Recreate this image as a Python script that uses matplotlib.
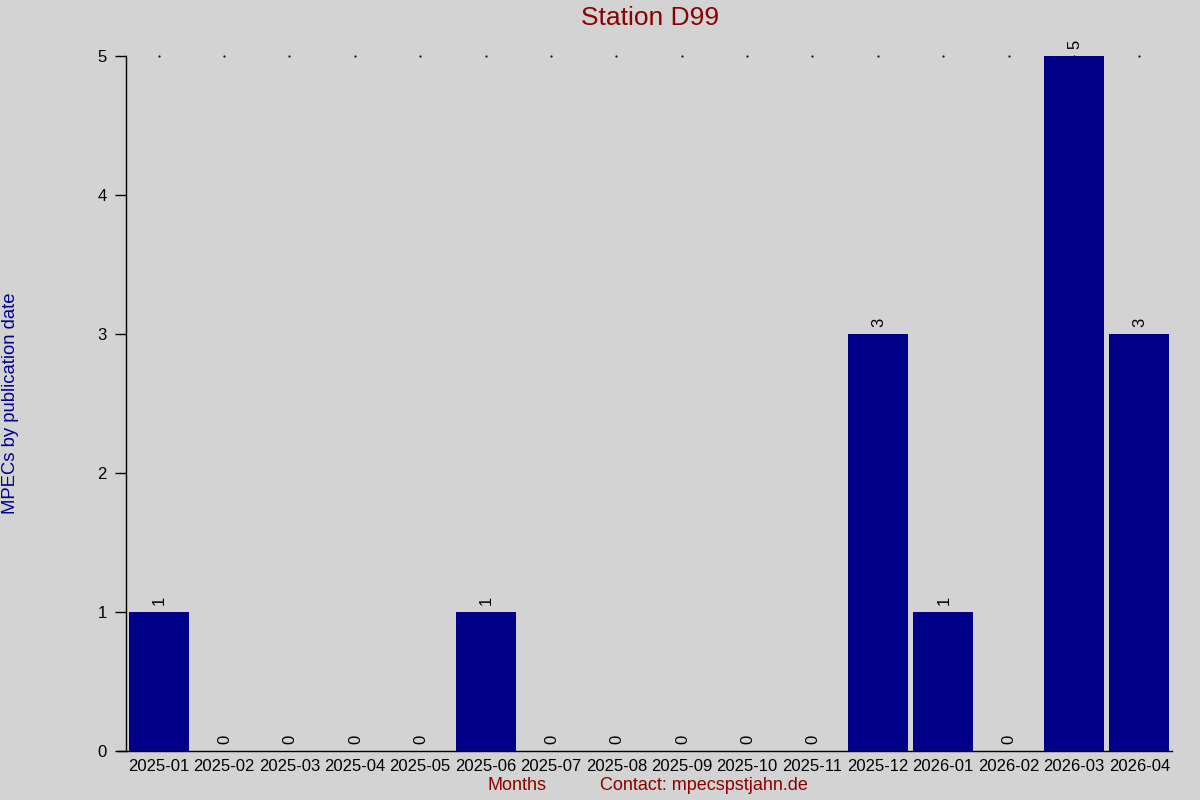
import numpy as np
import matplotlib.pyplot as plt

plt.rcParams['font.family'] = ['Liberation Sans', 'DejaVu Sans']

months = ['2025-01', '2025-02', '2025-03', '2025-04', '2025-05', '2025-06',
          '2025-07', '2025-08', '2025-09', '2025-10', '2025-11', '2025-12',
          '2026-01', '2026-02', '2026-03', '2026-04']
counts = [1, 0, 0, 0, 0, 1, 0, 0, 0, 0, 0, 3, 1, 0, 5, 3]

bg = '#d3d3d3'
bar_col = '#000088'
red = '#8b0000'

fig = plt.figure(figsize=(12, 8), dpi=100, facecolor=bg)
ax = fig.add_axes([0.105, 0.06125, 0.8717, 0.86875])
ax.set_facecolor(bg)

x = np.arange(len(months))
ax.bar(x, counts, width=0.92, color=bar_col, zorder=2)

# value labels above bars
for xi, c in zip(x, counts):
    ax.annotate(str(c), (xi, c), xytext=(0.5, 5), textcoords='offset points',
                rotation=90, ha='center', va='bottom', fontsize=12, color='black')

# little dots along the top
ax.scatter(x, [5] * len(x), s=0.3, color='black', clip_on=False, zorder=1)

ax.set_xlim(-0.5, len(months) - 0.5)
ax.set_ylim(0, 5)
ax.set_xticks(x)
ax.set_xticklabels(months, fontsize=12)
ax.set_yticks(range(6))
ax.tick_params(axis='x', length=0, pad=6)
ax.tick_params(axis='y', length=8, width=1, labelsize=12, pad=6, direction='out')
for s in ['top', 'right']:
    ax.spines[s].set_visible(False)
ax.spines['left'].set_linewidth(1)
ax.spines['bottom'].set_linewidth(1)
ax.spines['bottom'].set_bounds(-0.62, len(months) - 0.5)

fig.text(0.5417, 0.9775, 'Station D99', ha='center', va='center', fontsize=19, color=red)
fig.text(0.009, 0.496, 'MPECs by publication date', rotation=90, ha='center', va='center',
         fontsize=13.3, color='#00008b')
fig.text(0.431, 0.0175, 'Months', ha='center', va='center', fontsize=13, color=red)
fig.text(0.5867, 0.0175, 'Contact: mpecspstjahn.de', ha='center', va='center', fontsize=13, color=red)

fig.savefig('out.png', dpi=100, facecolor=bg)
